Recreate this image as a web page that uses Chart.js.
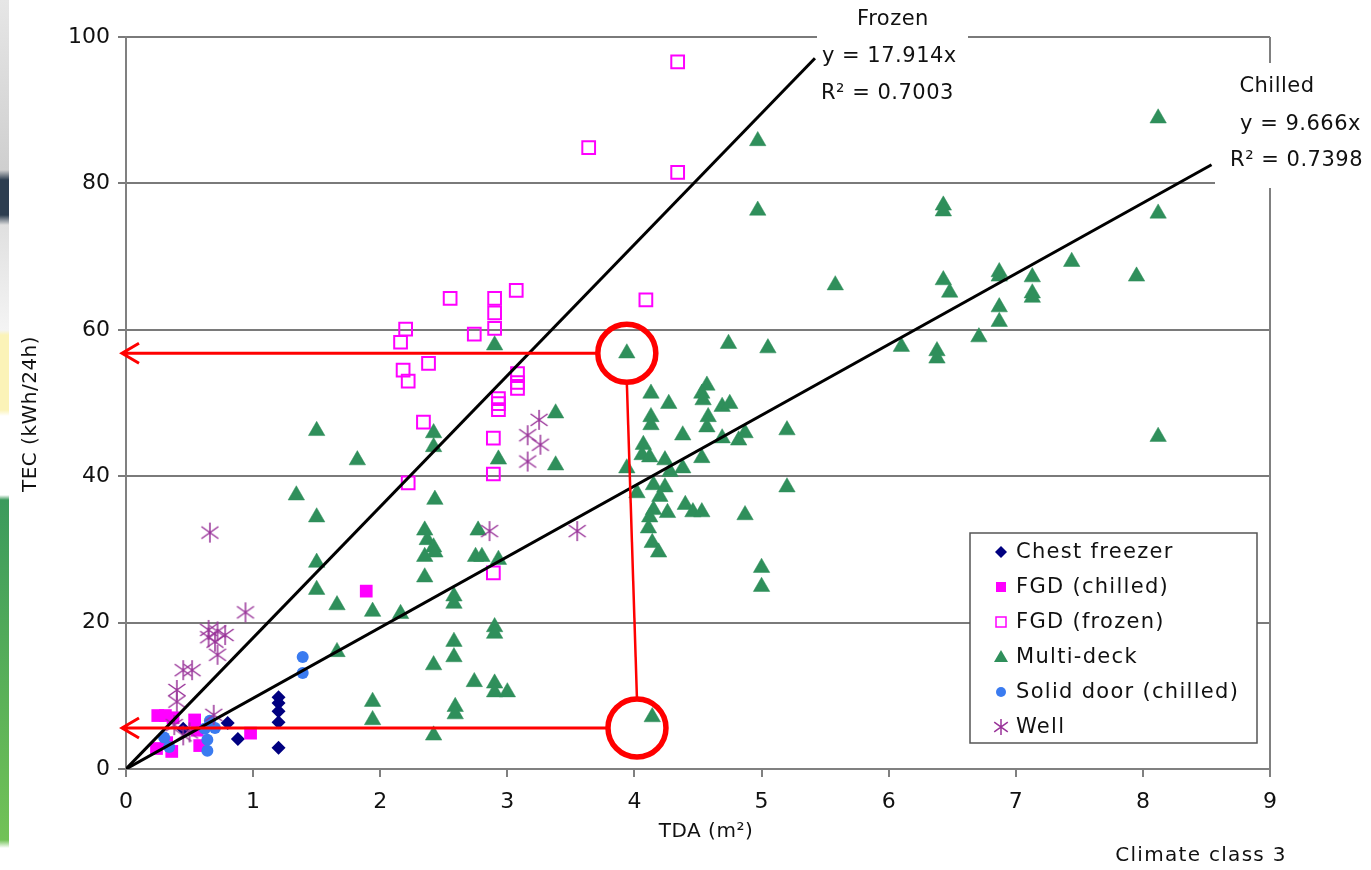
<!DOCTYPE html>
<html>
<head>
<meta charset="utf-8">
<title>TEC vs TDA - Climate class 3</title>
<script src="https://cdn.jsdelivr.net/npm/chart.js"></script>
<style>
  html, body { margin: 0; padding: 0; background: #ffffff; }
  #wrap { position: relative; width: 1371px; height: 870px; }
  #faixa { position: absolute; left: 0; top: 0; width: 9px; height: 870px;
    background: linear-gradient(to bottom, #e6e6e6 0px, #cfcfcf 170px, #2d3e50 180px, #2d3e50 215px, #e0e0e0 225px,
      #f4f4f4 330px, #fbf3b8 335px, #fbf3b8 410px, #ffffff 416px, #ffffff 495px, #3b9a5c 500px, #72c257 840px, #ffffff 848px); }
  canvas { position: absolute; left: 0; top: 0; }
</style>
</head>
<body>
<div id="wrap">
  <div id="faixa"></div>
  <canvas id="graficoTEC" width="1371" height="870"></canvas>
</div>
<script>
// Dados: [TDA (m2), TEC (kWh/24h)]
const chestFreezer = [[0.80,6.3],[0.88,4.1],[1.20,9.8],[1.20,9.0],[1.20,7.9],[1.20,6.4],[1.20,2.9],[0.45,5.5]];

const fgdChilled = [[0.25,7.3],[0.31,7.3],[0.37,7.0],[0.54,6.7],[0.56,5.3],[0.58,3.2],[0.98,4.9],
  [0.24,2.8],[0.36,2.4],[0.32,3.6],[1.89,24.3]];

const fgdFrozen = [[4.34,96.6],[3.64,84.9],[4.34,81.5],[4.09,64.1],[3.07,65.4],[2.55,64.3],[2.90,64.3],
  [2.90,62.3],[2.90,60.2],[2.20,60.1],[2.16,58.3],[2.74,59.4],[2.38,55.4],[2.18,54.5],[2.22,53.0],
  [3.08,54.0],[3.08,52.8],[3.08,52.0],[2.93,50.6],[2.93,49.9],[2.93,49.1],[2.34,47.4],[2.89,45.2],
  [2.89,40.3],[2.22,39.1],[2.89,26.8]];

const multiDeck = [[8.12,88.9],[4.97,85.8],[4.97,76.3],[6.43,77.0],[6.43,76.2],[8.12,75.9],[5.58,66.1],
  [6.43,66.8],[6.48,65.1],[6.87,67.9],[6.87,67.3],[7.13,67.2],[7.13,65.0],[7.13,64.4],[7.44,69.3],
  [7.95,67.3],[6.87,63.1],[6.87,61.1],[6.71,59.0],[6.10,57.7],[6.38,57.1],[6.38,56.1],[8.12,45.4],
  [3.94,56.8],[2.90,57.9],[4.74,58.1],[5.05,57.5],[4.13,51.3],[4.27,49.9],[4.57,52.4],[4.53,51.3],
  [4.54,50.4],[4.69,49.5],[4.75,49.9],[4.13,48.1],[4.13,47.0],[4.58,48.1],[4.57,46.7],[4.38,45.6],
  [4.69,45.2],[4.82,44.9],[4.87,45.9],[5.20,46.3],[4.07,44.3],[4.06,42.9],[4.12,42.6],[4.24,42.2],
  [4.53,42.5],[3.94,41.1],[4.38,41.1],[4.28,40.6],[4.15,38.8],[4.24,38.5],[4.02,37.7],[5.20,38.5],
  [4.20,37.2],[4.40,36.1],[4.46,35.1],[4.53,35.1],[4.26,35.0],[4.15,35.4],[4.12,34.4],[4.87,34.7],
  [4.11,32.9],[4.14,30.9],[4.19,29.6],[5.00,27.5],[5.00,24.9],
  [3.38,48.6],[3.38,41.5],[2.93,42.3],[2.42,45.9],[2.42,44.0],[1.50,46.2],[1.82,42.2],[1.34,37.4],
  [2.43,36.8],[1.50,34.4],[2.35,32.6],[2.37,31.3],[2.42,30.3],[2.43,29.6],[2.35,29.0],[2.77,32.6],
  [2.75,29.0],[2.80,29.0],[2.93,28.6],[2.35,26.2],[1.50,28.2],[1.50,24.5],[1.66,22.4],[1.94,21.5],
  [2.16,21.2],[2.58,23.6],[2.58,22.6],[2.90,19.4],[2.90,18.5],[2.58,17.4],[2.58,15.3],[2.42,14.2],
  [2.74,11.9],[2.90,11.7],[2.90,10.5],[3.00,10.5],[2.59,8.5],[2.59,7.5],[2.42,4.6],[4.14,7.1],
  [1.66,16.0],[1.94,9.2],[1.94,6.7]];

const solidDoor = [[0.30,4.3],[0.34,3.0],[0.62,5.5],[0.64,4.0],[0.64,2.5],[0.66,6.6],[0.70,5.6],[1.39,15.3],[1.39,13.1]];

const well = [[0.66,32.3],[0.94,21.4],[0.65,19.0],[0.65,18.0],[0.72,18.8],[0.78,18.3],[0.70,17.4],
  [0.72,15.6],[0.45,13.5],[0.52,13.5],[0.40,10.8],[0.40,9.2],[0.69,7.4],[0.45,4.6],[0.50,5.0],
  [0.38,6.0],[2.86,32.5],[3.55,32.5],[3.25,47.7],[3.16,45.6],[3.26,44.3],[3.16,42.0]];

// Linhas de tendência (y = a*x) e até onde vão no eixo x
const trendNames = ['Frozen', 'Chilled'];
const trendSlopes = [17.914, 9.666];
const trendR2 = ['0.7003', '0.7398'];
const trendEnds = [5.42, 8.54];

// Pontos destacados com círculo vermelho
const circledPoints = [[3.94, 56.8], [4.02, 5.6]];

const xTicks = [0, 1, 2, 3, 4, 5, 6, 7, 8, 9];
const yTicks = [0, 20, 40, 60, 80, 100];

const FONTE = "'DejaVu Sans', 'Liberation Sans', sans-serif";

function toXY(lista) {
    return lista.map(p => ({ x: p[0], y: p[1] }));
}

// marcador asterisco (vertical + X), como no Excel
function makeAsterisk(tam, cor, espessura) {
    const c = document.createElement('canvas');
    c.width = tam; c.height = tam;
    const g = c.getContext('2d');
    const m = tam / 2, r = tam / 2 - 1;
    g.strokeStyle = cor;
    g.lineWidth = espessura;
    g.beginPath();
    g.moveTo(m, m - r); g.lineTo(m, m + r);
    g.moveTo(m - r * 0.85, m - r * 0.6); g.lineTo(m + r * 0.85, m + r * 0.6);
    g.moveTo(m - r * 0.85, m + r * 0.6); g.lineTo(m + r * 0.85, m - r * 0.6);
    g.stroke();
    return c;
}

const corVerde = '#2F8F5B';
const corMagenta = '#FF00FF';
const corAzulEscuro = '#000080';
const corAzul = '#3A7BF0';
const corRoxo = '#993399';

const asteriscoGrande = makeAsterisk(22, corRoxo, 1.5);
const asteriscoLegenda = makeAsterisk(18, corRoxo, 1.5);

const series = [
    { label: 'Chest freezer', data: chestFreezer, style: 'rectRot', radius: 7, fill: corAzulEscuro, border: corAzulEscuro, bw: 0, order: 6 },
    { label: 'FGD (chilled)', data: fgdChilled, style: 'rect', radius: 9, fill: corMagenta, border: corMagenta, bw: 0, order: 5 },
    { label: 'FGD (frozen)', data: fgdFrozen, style: 'rect', radius: 9, fill: 'rgba(255,255,255,0)', border: corMagenta, bw: 2, order: 4 },
    { label: 'Multi-deck', data: multiDeck, style: 'triangle', radius: 9.5, fill: corVerde, border: corVerde, bw: 0.5, order: 3 },
    { label: 'Solid door (chilled)', data: solidDoor, style: 'circle', radius: 6, fill: corAzul, border: corAzul, bw: 0, order: 2 },
    { label: 'Well', data: well, style: asteriscoGrande, radius: 11, fill: corRoxo, border: corRoxo, bw: 1.5, order: 1 }
];

const datasets = series.map(s => ({
    label: s.label,
    data: toXY(s.data),
    pointStyle: s.style,
    pointRadius: s.radius,
    pointBackgroundColor: s.fill,
    pointBorderColor: s.border,
    pointBorderWidth: s.bw,
    showLine: false,
    order: s.order
}));

trendSlopes.forEach((a, i) => {
    datasets.push({
        label: trendNames[i] + ' trend',
        data: [{ x: 0, y: 0 }, { x: trendEnds[i], y: a * trendEnds[i] }],
        showLine: true,
        borderColor: '#000000',
        borderWidth: 3,
        pointRadius: 0,
        order: 0
    });
});

// desenho dos marcadores da legenda
function drawLegendMarker(ctx, s, x, y) {
    ctx.save();
    ctx.fillStyle = s.fill;
    ctx.strokeStyle = s.border;
    ctx.lineWidth = 1.5;
    ctx.beginPath();
    if (s.label === 'Chest freezer') {
        ctx.moveTo(x, y - 6); ctx.lineTo(x + 6, y); ctx.lineTo(x, y + 6); ctx.lineTo(x - 6, y); ctx.closePath(); ctx.fill();
    } else if (s.label === 'FGD (chilled)') {
        ctx.fillRect(x - 5, y - 5, 10, 10);
    } else if (s.label === 'FGD (frozen)') {
        ctx.strokeRect(x - 5, y - 5, 10, 10);
    } else if (s.label === 'Multi-deck') {
        ctx.moveTo(x, y - 7); ctx.lineTo(x + 7, y + 5); ctx.lineTo(x - 7, y + 5); ctx.closePath(); ctx.fill();
    } else if (s.label === 'Solid door (chilled)') {
        ctx.arc(x, y, 5, 0, Math.PI * 2); ctx.fill();
    } else {
        ctx.drawImage(asteriscoLegenda, x - 9, y - 9);
    }
    ctx.restore();
}

const extrasPlugin = {
    id: 'extras',
    afterDraw(chart) {
        const { ctx, scales: { x, y } } = chart;
        ctx.save();

        // borda direita da área do gráfico
        ctx.strokeStyle = '#808080';
        ctx.lineWidth = 2;
        ctx.beginPath();
        ctx.moveTo(x.right, y.top);
        ctx.lineTo(x.right, y.bottom);
        ctx.stroke();

        // caixas brancas dos rótulos das linhas de tendência
        ctx.fillStyle = '#ffffff';
        ctx.fillRect(817, 0, 151, 112);
        ctx.fillRect(1215, 63, 156, 125);

        ctx.fillStyle = '#111111';
        ctx.font = '21px ' + FONTE;
        ctx.letterSpacing = '0.5px';
        ctx.textBaseline = 'middle';

        ctx.textAlign = 'center';
        ctx.fillText(trendNames[0], 893, 20);
        ctx.textAlign = 'left';
        ctx.fillText('y = ' + trendSlopes[0].toFixed(3) + 'x', 822, 57);
        ctx.fillText('R² = ' + trendR2[0], 821, 94);

        ctx.textAlign = 'center';
        ctx.fillText(trendNames[1], 1277, 87);
        ctx.textAlign = 'right';
        ctx.fillText('y = ' + trendSlopes[1].toFixed(3) + 'x', 1361, 125);
        ctx.fillText('R² = ' + trendR2[1], 1363, 161);

        // títulos dos eixos
        ctx.font = '20px ' + FONTE;
        ctx.textAlign = 'center';
        ctx.fillText('TDA (m²)', 706, 832);
        ctx.letterSpacing = '1.3px';
        ctx.fillText('Climate class 3', 1201, 856);
        ctx.letterSpacing = '0.5px';
        ctx.save();
        ctx.translate(31, 414);
        ctx.rotate(-Math.PI / 2);
        ctx.fillText('TEC (kWh/24h)', 0, 0);
        ctx.restore();

        // legenda
        const lx = 970, ly = 533, lw = 287, lh = 210;
        ctx.fillStyle = '#ffffff';
        ctx.fillRect(lx, ly, lw, lh);
        ctx.strokeStyle = '#555555';
        ctx.lineWidth = 1.5;
        ctx.strokeRect(lx, ly, lw, lh);
        ctx.font = '21px ' + FONTE;
        ctx.letterSpacing = '1.3px';
        ctx.textAlign = 'left';
        series.forEach((s, i) => {
            const rowY = 552 + i * 35;
            drawLegendMarker(ctx, s, 1001, rowY);
            ctx.fillStyle = '#111111';
            ctx.fillText(s.label, 1016, rowY + 1);
        });
        ctx.letterSpacing = '0px';

        // anotações vermelhas: círculos, setas até o eixo y e ligação entre círculos
        const raio = 29;
        const centros = circledPoints.map(p => [x.getPixelForValue(p[0]), y.getPixelForValue(p[1])]);
        ctx.strokeStyle = '#FF0000';
        ctx.lineWidth = 3;
        const ponta = x.getPixelForValue(0) - 4;
        centros.forEach(c => {
            ctx.beginPath();
            ctx.moveTo(c[0] - raio, c[1]);
            ctx.lineTo(ponta, c[1]);
            ctx.moveTo(ponta + 17, c[1] - 10);
            ctx.lineTo(ponta, c[1]);
            ctx.lineTo(ponta + 17, c[1] + 10);
            ctx.stroke();
        });
        ctx.lineWidth = 2.5;
        ctx.beginPath();
        ctx.moveTo(centros[0][0], centros[0][1] + raio);
        ctx.lineTo(centros[1][0], centros[1][1] - raio);
        ctx.stroke();
        ctx.lineWidth = 5.5;
        centros.forEach(c => {
            ctx.beginPath();
            ctx.arc(c[0], c[1], raio, 0, Math.PI * 2);
            ctx.stroke();
        });

        ctx.restore();
    }
};

const canvasGrafico = document.getElementById('graficoTEC').getContext('2d');

const graficoTEC = new Chart(canvasGrafico, {
    type: 'scatter',
    data: { datasets: datasets },
    options: {
        responsive: false,
        animation: false,
        devicePixelRatio: 1,
        layout: { padding: { left: 0, top: 37, right: 101, bottom: 0 } },
        plugins: {
            legend: { display: false },
            tooltip: { enabled: false }
        },
        scales: {
            x: {
                type: 'linear',
                min: xTicks[0],
                max: xTicks[xTicks.length - 1],
                afterFit: (scale) => { scale.height = 101; },
                afterBuildTicks: (scale) => { scale.ticks = xTicks.map(v => ({ value: v })); },
                ticks: { font: { size: 22, family: FONTE }, color: '#111111', padding: 12, maxRotation: 0 },
                grid: { drawOnChartArea: false, drawTicks: true, tickLength: 8, color: '#808080', lineWidth: 2 },
                border: { color: '#808080', width: 2 }
            },
            y: {
                type: 'linear',
                min: yTicks[0],
                max: yTicks[yTicks.length - 1],
                afterFit: (scale) => { scale.width = 126; },
                afterBuildTicks: (scale) => { scale.ticks = yTicks.map(v => ({ value: v })); },
                ticks: { font: { size: 22, family: FONTE }, color: '#111111', padding: 8 },
                grid: { drawOnChartArea: true, drawTicks: true, tickLength: 8, color: '#7a7a7a', lineWidth: 2 },
                border: { color: '#808080', width: 2 }
            }
        }
    },
    plugins: [extrasPlugin]
});
</script>
</body>
</html>
